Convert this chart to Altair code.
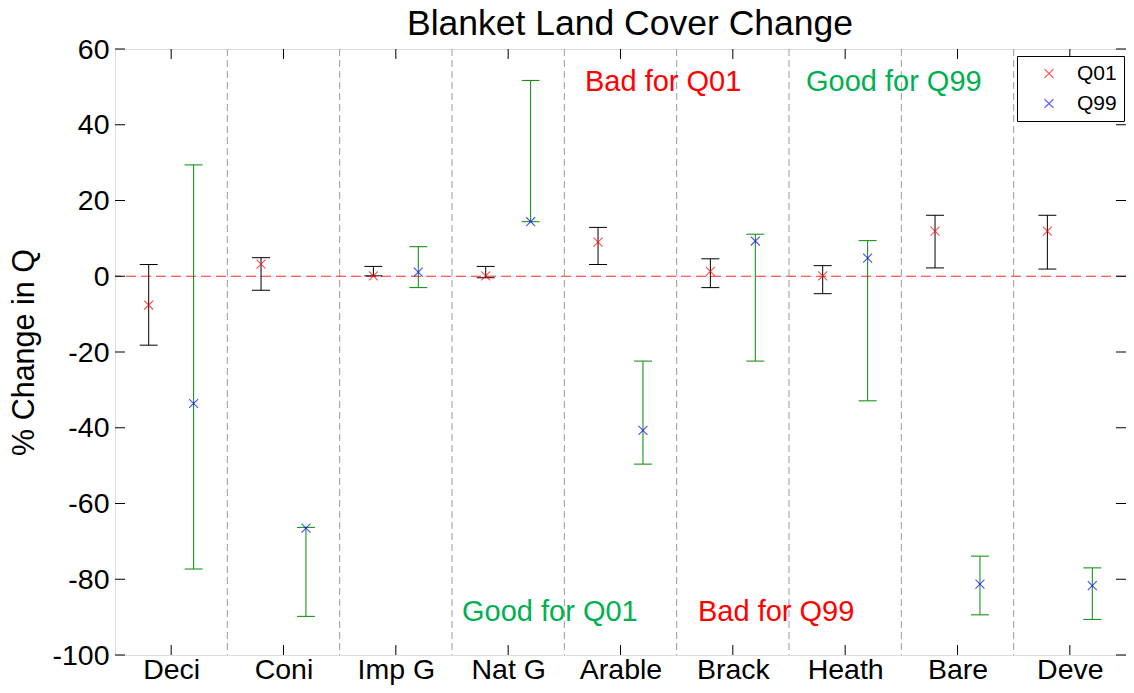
import altair as alt
import pandas as pd

# ---------------- data ----------------
cats = ["Deci", "Coni", "Imp G", "Nat G", "Arable", "Brack", "Heath", "Bare", "Deve"]
series_names = ["Q01", "Q99"]

q01_est = [-7.6, 3.2, 0.1, 0.1, 9.0, 1.3, 0.1, 11.9, 11.9]
q01_lo = [-18.2, -3.7, 0.1, -0.4, 3.1, -3.0, -4.6, 2.2, 1.9]
q01_hi = [3.1, 4.9, 2.6, 2.6, 12.9, 4.6, 2.8, 16.1, 16.1]

q99_est = [-33.6, -66.5, 1.1, 14.4, -40.7, 9.3, 4.8, -81.3, -81.7]
q99_lo = [-77.3, -89.8, -3.0, 14.4, -49.6, -22.4, -32.9, -89.4, -90.6]
q99_hi = [29.4, -66.3, 7.8, 51.7, -22.4, 11.1, 9.4, -73.9, -77.0]

y_ticks = [-100, -80, -60, -40, -20, 0, 20, 40, 60]

ann_text = ["Bad for Q01", "Good for Q99", "Good for Q01", "Bad for Q99"]
ann_x = [4.684, 6.651, 3.589, 5.69]
ann_y = [48.8, 48.8, -91.1, -91.1]
ann_color = ["#ff0000", "#00b050", "#00b050", "#ff0000"]

# ---------------- tables ----------------
rows = []
for i, c in enumerate(cats):
    rows.append(dict(idx=i + 1, cat=c, series="Q01", est=q01_est[i], lo=q01_lo[i], hi=q01_hi[i]))
    rows.append(dict(idx=i + 1, cat=c, series="Q99", est=q99_est[i], lo=q99_lo[i], hi=q99_hi[i]))
bars = pd.DataFrame(rows)
cat_df = pd.DataFrame({"idx": list(range(1, len(cats) + 1)), "cat": cats})
div_df = pd.DataFrame({"idx": list(range(1, len(cats)))})
ytick_df = pd.DataFrame({"v": y_ticks})
zero_df = pd.DataFrame({"z": [0]})
ann_df = pd.DataFrame({"t": ann_text, "x": ann_x, "y": ann_y, "c": ann_color})

W, H = 1011, 606
FONT = "Liberation Sans"

xscale = alt.Scale(domain=[0.5, len(cats) + 0.5], nice=False, zero=False)
yscale = alt.Scale(domain=[-100, 60], nice=False, zero=False)

label_expr = "[" + ",".join("'%s'" % c for c in cats) + "][datum.value - 1]"
xaxis = alt.Axis(values=list(range(1, len(cats) + 1)), labelExpr=label_expr, title=None,
                 grid=False, ticks=False, tickSize=0, domain=False, labelPadding=0.5,
                 labelFontSize=28.5, labelFont=FONT, labelColor="black", labelFlush=False)
yaxis = alt.Axis(values=y_ticks, labelExpr="'' + datum.value", title="% Change in Q",
                 grid=False, ticks=False, tickSize=0,
                 domain=False, labelPadding=6, labelFontSize=28.5, labelFont=FONT,
                 labelColor="black", titleFontSize=30.5, titleFont=FONT, titleFontWeight="normal",
                 titleColor="black", titleAngle=270, titleX=-82, titleY=H / 2,
                 titleBaseline="alphabetic", titleAlign="center")

X = lambda f: alt.X(f, scale=xscale, axis=xaxis)
Y = lambda f: alt.Y(f, scale=yscale, axis=yaxis)

bar_stroke = alt.Stroke("barcol:N", scale=None, legend=None)

xshape = "M-1,-1L1,1M-1,1L1,-1"

dividers = alt.Chart(div_df).transform_calculate(pos="datum.idx + 0.5").mark_rule(
    color="#9a9a9a", strokeDash=[7, 4], strokeWidth=1).encode(x=X("pos:Q"))

zero_line = alt.Chart(zero_df).mark_rule(color="#ff0000", strokeDash=[10, 5], strokeWidth=1,
                                         opacity=0.85).encode(y=Y("z:Q"))

base = alt.Chart(bars).transform_calculate(
    xpos="datum.idx + (datum.series == 'Q01' ? -0.2 : 0.2)",
    barcol="datum.series == 'Q01' ? '#000000' : '#008c00'",
).transform_calculate(xl="datum.xpos - 0.08", xr="datum.xpos + 0.08")

stems = base.mark_rule(strokeWidth=1).encode(x=X("xpos:Q"), y=Y("lo:Q"), y2="hi:Q", stroke=bar_stroke)
caps_lo = base.mark_rule(strokeWidth=1).encode(x=X("xl:Q"), x2="xr:Q", y=Y("lo:Q"), stroke=bar_stroke)
caps_hi = base.mark_rule(strokeWidth=1).encode(x=X("xl:Q"), x2="xr:Q", y=Y("hi:Q"), stroke=bar_stroke)

points = base.mark_point(shape=xshape, filled=False, size=80, strokeWidth=1.1).encode(
    x=X("xpos:Q"), y=Y("est:Q"),
    color=alt.Color("series:N", scale=alt.Scale(domain=series_names, range=["#ff0000", "#0000ff"]),
                    legend=alt.Legend(title=None, orient="none", legendX=902, legendY=7,
                                      strokeColor="black", fillColor="white", padding=7,
                                      symbolType=xshape, symbolSize=80, symbolStrokeWidth=1.1,
                                      symbolOffset=14.5, labelOffset=17.5, labelFontSize=21,
                                      labelFont=FONT, labelColor="black", rowPadding=8,
                                      labelLimit=200)))

annots = alt.Chart(ann_df).mark_text(align="left", baseline="alphabetic", fontSize=29, font=FONT).encode(
    x=X("x:Q"), y=Y("y:Q"), text="t:N", fill=alt.Fill("c:N", scale=None, legend=None))

tick_l = alt.Chart(ytick_df).mark_rule(color="black", strokeWidth=1).encode(
    y=Y("v:Q"), x=alt.value(0), x2=alt.value(10))
tick_r = alt.Chart(ytick_df).mark_rule(color="black", strokeWidth=1).encode(
    y=Y("v:Q"), x=alt.value(W - 10), x2=alt.value(W))
tick_b = alt.Chart(cat_df).mark_rule(color="black", strokeWidth=1).encode(
    x=X("idx:Q"), y=alt.value(H - 10), y2=alt.value(H))
tick_t = alt.Chart(cat_df).mark_rule(color="black", strokeWidth=1).encode(
    x=X("idx:Q"), y=alt.value(0), y2=alt.value(10))

chart = alt.layer(
    dividers, zero_line, stems, caps_lo, caps_hi, points, annots, tick_l, tick_r, tick_b, tick_t
).properties(
    width=W, height=H,
    title=alt.TitleParams("Blanket Land Cover Change", fontSize=35.5, font=FONT, fontWeight="normal",
                          anchor="middle", offset=-7, dx=9.5, color="black", frame="group"),
    autosize=alt.AutoSizeParams(type="none"),
    padding={"left": 107, "top": 41, "right": 0, "bottom": 30},
).configure_view(stroke="black", strokeWidth=1).configure(background="white")

chart.save("out.html", embed_options={"renderer": "svg", "actions": False})
